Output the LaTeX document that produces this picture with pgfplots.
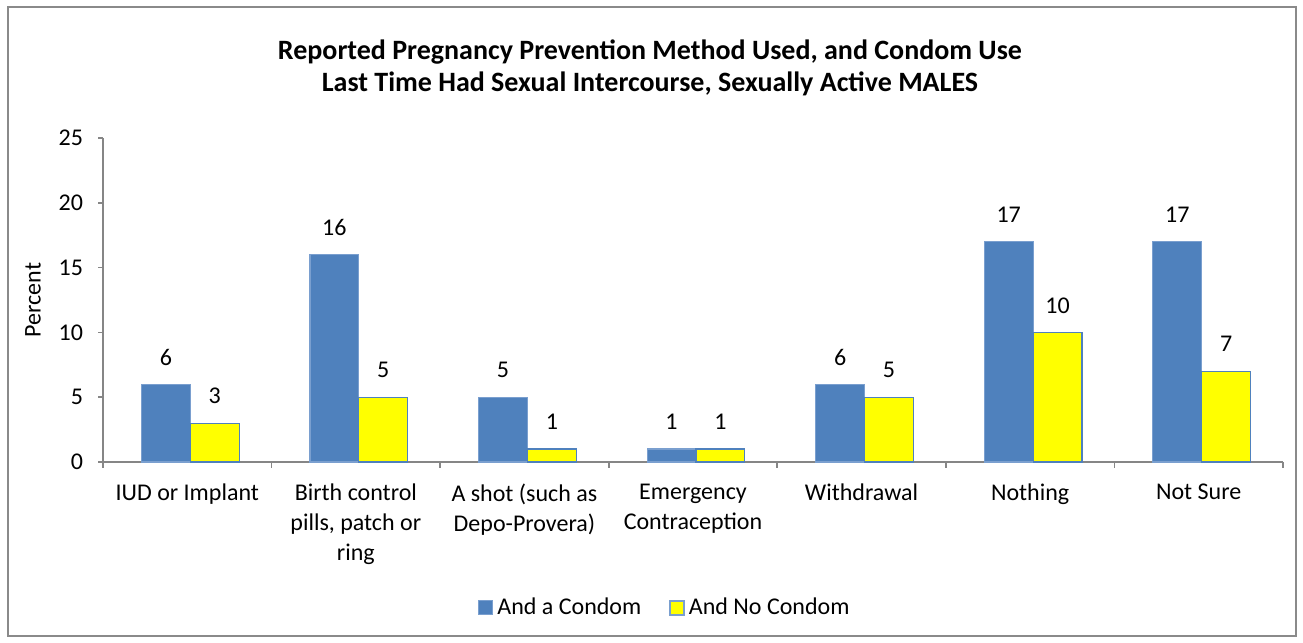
\documentclass[border=0pt]{standalone}
\usepackage{fontspec}
\setmainfont{Carlito}
\usepackage{pgfplots}
\pgfplotsset{compat=1.18}
\definecolor{condom}{HTML}{4F81BD}
\definecolor{condomedge}{HTML}{7A9FCF}
\definecolor{nocondom}{HTML}{FFFF00}
\definecolor{axisgray}{HTML}{868686}
\definecolor{framegray}{HTML}{8A8A8A}

\begin{document}
\begin{tikzpicture}
\useasboundingbox (0pt,0pt) rectangle (651.5pt,321.5pt);
\fill[white] (0pt,0pt) rectangle (651.5pt,321.5pt);
\draw[framegray, line width=1pt] (4pt,3.5pt) rectangle (648pt,318pt);
\node[font=\fontsize{14}{16}\selectfont\bfseries, align=center] at (325pt,287.5pt)
  {Reported Pregnancy Prevention Method Used, and Condom Use\\Last Time Had Sexual Intercourse, Sexually Active MALES};
\node[rotate=90, font=\fontsize{12}{14}\selectfont] at (16.5pt,171.5pt) {Percent};
\begin{axis}[
  at={(51.5pt,90.5pt)}, anchor=south west,
  scale only axis, width=590pt, height=162pt,
  xmin=-0.5, xmax=6.5, ymin=0, ymax=25,
  ytick={0,5,...,25},
  xtick={0,...,6},
  xticklabels={IUD or Implant, {Birth control\\pills, patch or\\ring}, {A shot (such as\\Depo-Provera)}, {Emergency\\Contraception}, Withdrawal, Nothing, Not Sure},
  minor xtick={-0.5,0.5,...,6.5},
  axis lines*=left,
  axis line style={axisgray, line width=0.8pt},
  tick align=outside,
  major tick length=2.5pt,
  minor tick length=3pt,
  major x tick style={draw=none},
  minor x tick style={axisgray, line width=0.8pt},
  major y tick style={axisgray, line width=0.8pt},
  /pgf/number format/assume math mode=true,
  tick label style={font=\fontsize{12}{15}\selectfont},
  xticklabel style={align=center, anchor=north, yshift=-5pt},
  yticklabel style={xshift=-4pt},
  ybar=0pt, bar width=0.29,
  every axis plot/.append style={xshift=1.5pt},
  nodes near coords,
  every node near coord/.append style={font=\fontsize{12}{14}\selectfont, anchor=center, yshift=13.5pt},
  legend style={draw=none, at={(0.477,-0.45)}, anchor=center, legend columns=2,
    font=\fontsize{12}{14}\selectfont, inner sep=0pt,
    /tikz/every even column/.append style={column sep=12pt}},
  clip=false,
]
\addplot[fill=condom, draw=condomedge, line width=0.6pt,
  legend image code/.code={\draw[fill=condom, draw=condomedge, line width=0.6pt] (0pt,-3.5pt) rectangle (7pt,3.5pt);}]
  coordinates {(0,6) (1,16) (2,5) (3,1) (4,6) (5,17) (6,17)};
\addplot[fill=nocondom, draw=condom, line width=0.6pt,
  legend image code/.code={\draw[fill=nocondom, draw=condomedge, line width=0.8pt] (0pt,-3.5pt) rectangle (7pt,3.5pt);}]
  coordinates {(0,3) (1,5) (2,1) (3,1) (4,5) (5,10) (6,7)};
\legend{And a Condom, And No Condom}
\end{axis}
\end{tikzpicture}
\end{document}
